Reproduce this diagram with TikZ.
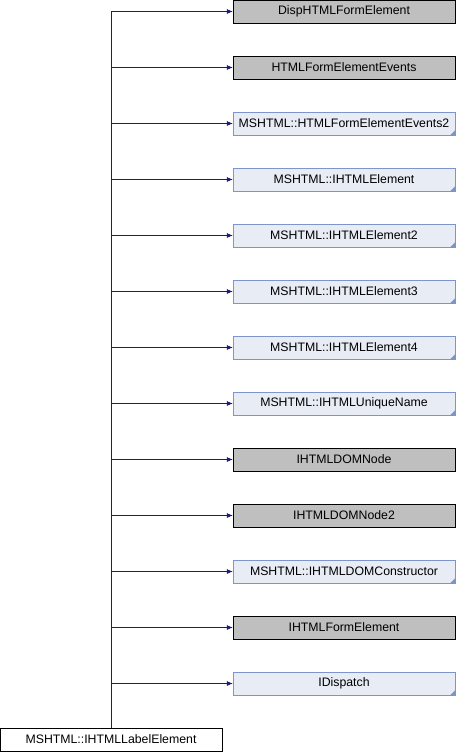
\documentclass[tikz,border=0pt]{standalone}
\usepackage{fontspec}
\setmainfont{Liberation Sans}
\usetikzlibrary{arrows.meta}
\definecolor{edgeblue}{HTML}{191980}
\definecolor{extfill}{HTML}{E8ECF5}
\definecolor{extdraw}{HTML}{7D95CC}
\tikzset{
	classbox/.style={draw=black, minimum width=222pt, minimum height=23pt, inner sep=0pt,
		font=\fontsize{12.3}{14}\selectfont},
	undoc/.style={classbox, fill=black!25},
	extern/.style={classbox, draw=extdraw, fill=extfill},
	inherit/.style={draw=edgeblue, semithick, -{Latex[length=6pt,width=5pt]}}
}
\begin{document}
\begin{tikzpicture}[x=1pt,y=-1pt]
	\useasboundingbox (0,0) rectangle (456,752);
	\node[classbox, fill=white] (label) at (111,739.5) {MSHTML::IHTMLLabelElement};
	
	\foreach \name/\kind/\txt [count=\i from 0] in {
		disp/undoc/DispHTMLFormElement,
		events/undoc/HTMLFormElementEvents,
		eventsb/extern/MSHTML::HTMLFormElementEvents2,
		elem/extern/MSHTML::IHTMLElement,
		elemb/extern/MSHTML::IHTMLElement2,
		elemc/extern/MSHTML::IHTMLElement3,
		elemd/extern/MSHTML::IHTMLElement4,
		uname/extern/MSHTML::IHTMLUniqueName,
		dom/undoc/IHTMLDOMNode,
		domb/undoc/IHTMLDOMNode2,
		ctor/extern/MSHTML::IHTMLDOMConstructor,
		form/undoc/IHTMLFormElement,
		idisp/extern/IDispatch}
	{
		\node[\kind] (\name) at (344,11.5+56*\i) {\txt};
		\draw[inherit] (label.north) |- (\name.west);
	}
	
	% folded corners of the external boxes
	\foreach \name in {eventsb,elem,elemb,elemc,elemd,uname,ctor,idisp}
		\fill[extdraw] (\name.south east) -- ++(0,-5) -- ++(-5,5) -- cycle;
\end{tikzpicture}
\end{document}
